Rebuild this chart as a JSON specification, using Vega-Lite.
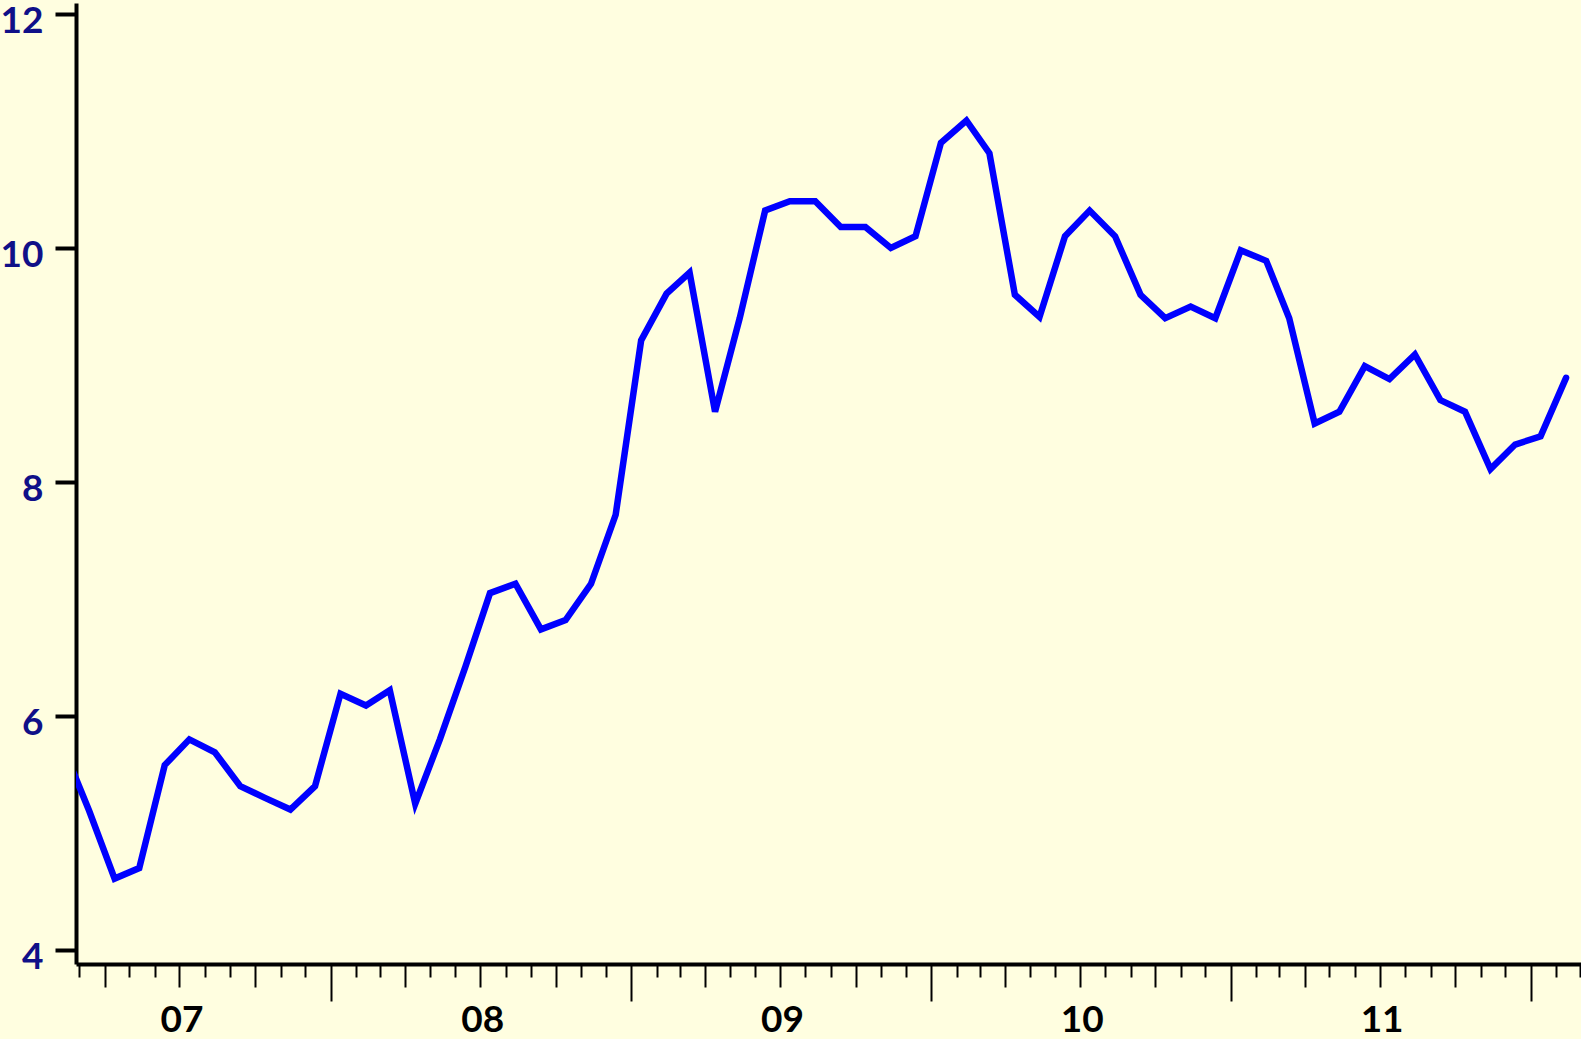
{
  "$schema": "https://vega.github.io/schema/vega-lite/v6.json",
  "autosize": "none",
  "width": 1505,
  "height": 961,
  "padding": {"left": 76, "top": 3, "right": 0, "bottom": 75},
  "background": "#FFFEE0",
  "config": {"view": {"stroke": null}, "font": "Lato"},
  "data": {"values": [
    {"date": "2007-02-13", "v": 5.67},
    {"date": "2007-03-13", "v": 5.19},
    {"date": "2007-04-13", "v": 4.61},
    {"date": "2007-05-13", "v": 4.70},
    {"date": "2007-06-13", "v": 5.58},
    {"date": "2007-07-13", "v": 5.80},
    {"date": "2007-08-13", "v": 5.69},
    {"date": "2007-09-13", "v": 5.40},
    {"date": "2007-10-13", "v": 5.30},
    {"date": "2007-11-13", "v": 5.20},
    {"date": "2007-12-13", "v": 5.40},
    {"date": "2008-01-13", "v": 6.19},
    {"date": "2008-02-13", "v": 6.09},
    {"date": "2008-03-13", "v": 6.22},
    {"date": "2008-04-13", "v": 5.25},
    {"date": "2008-05-13", "v": 5.80},
    {"date": "2008-06-13", "v": 6.42},
    {"date": "2008-07-13", "v": 7.05},
    {"date": "2008-08-13", "v": 7.13},
    {"date": "2008-09-13", "v": 6.74},
    {"date": "2008-10-13", "v": 6.82},
    {"date": "2008-11-13", "v": 7.13},
    {"date": "2008-12-13", "v": 7.72},
    {"date": "2009-01-13", "v": 9.21},
    {"date": "2009-02-13", "v": 9.61},
    {"date": "2009-03-13", "v": 9.79},
    {"date": "2009-04-13", "v": 8.60},
    {"date": "2009-05-13", "v": 9.40},
    {"date": "2009-06-13", "v": 10.32},
    {"date": "2009-07-13", "v": 10.40},
    {"date": "2009-08-13", "v": 10.40},
    {"date": "2009-09-13", "v": 10.18},
    {"date": "2009-10-13", "v": 10.18},
    {"date": "2009-11-13", "v": 10.00},
    {"date": "2009-12-13", "v": 10.10},
    {"date": "2010-01-13", "v": 10.90},
    {"date": "2010-02-13", "v": 11.09},
    {"date": "2010-03-13", "v": 10.81},
    {"date": "2010-04-13", "v": 9.60},
    {"date": "2010-05-13", "v": 9.41},
    {"date": "2010-06-13", "v": 10.10},
    {"date": "2010-07-13", "v": 10.32},
    {"date": "2010-08-13", "v": 10.10},
    {"date": "2010-09-13", "v": 9.60},
    {"date": "2010-10-13", "v": 9.40},
    {"date": "2010-11-13", "v": 9.50},
    {"date": "2010-12-13", "v": 9.40},
    {"date": "2011-01-13", "v": 9.98},
    {"date": "2011-02-13", "v": 9.89},
    {"date": "2011-03-13", "v": 9.40},
    {"date": "2011-04-13", "v": 8.50},
    {"date": "2011-05-13", "v": 8.60},
    {"date": "2011-06-13", "v": 8.99},
    {"date": "2011-07-13", "v": 8.88},
    {"date": "2011-08-13", "v": 9.09},
    {"date": "2011-09-13", "v": 8.70},
    {"date": "2011-10-13", "v": 8.60},
    {"date": "2011-11-13", "v": 8.11},
    {"date": "2011-12-13", "v": 8.32},
    {"date": "2012-01-13", "v": 8.39},
    {"date": "2012-02-13", "v": 8.89}
  ]},
  "mark": {"type": "line", "color": "#0000FF", "strokeWidth": 6.5, "strokeCap": "round", "clip": true},
  "encoding": {
    "x": {
      "field": "date", "type": "temporal",
      "scale": {"type": "utc", "nice": false,
        "domain": [{"year": 2007, "month": 2, "date": 25, "utc": true}, {"year": 2012, "month": 3, "date": 2, "hours": 5, "utc": true}]},
      "axis": {
        "title": null,
        "grid": false,
        "tickCount": {"interval": "month", "step": 1},
        "domainColor": "black", "domainWidth": 4,
        "tickColor": "black", "tickWidth": 2,
        "tickSize": {"condition": [
          {"test": "utcmonth(datum.value) === 0", "value": 37},
          {"test": "utcmonth(datum.value) % 3 === 0", "value": 23}
        ], "value": 13},
        "labelExpr": "utcmonth(datum.value) === 6 ? utcFormat(datum.value, '%y') : ''",
        "labelFont": "Lato", "labelFontSize": 37, "labelFontWeight": "bold", "labelColor": "black",
        "labelPadding": 15, "labelOffset": 2,
        "labelOverlap": false, "labelFlush": false, "labelBound": false
      }
    },
    "y": {
      "field": "v", "type": "quantitative",
      "scale": {"domain": [3.88, 12.094], "nice": false, "zero": false},
      "axis": {
        "title": null,
        "grid": false,
        "values": [4, 6, 8, 10, 12],
        "domainColor": "black", "domainWidth": 4,
        "tickColor": "black", "tickWidth": 4, "tickSize": 21,
        "labelFont": "Lato", "labelFontSize": 37, "labelFontWeight": "bold", "labelColor": "#101088",
        "labelPadding": 12, "labelOffset": 19, "labelBaseline": "alphabetic"
      }
    }
  }
}
